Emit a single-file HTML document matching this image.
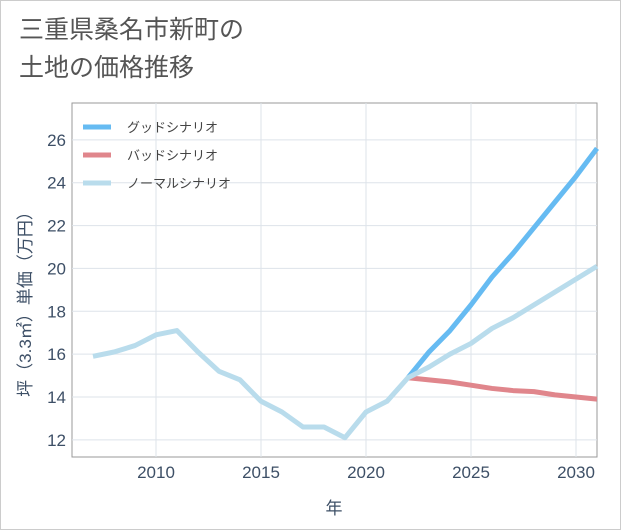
<!DOCTYPE html>
<html><head><meta charset="utf-8"><style>
body{margin:0;background:#fff;}
#wrap{position:relative;width:621px;height:530px;box-sizing:border-box;border:1px solid #ccc;background:#fff;font-family:"Liberation Sans","Noto Sans CJK JP",sans-serif;}
#title{position:absolute;left:18px;top:10px;font-size:25px;color:#555;line-height:38px;}
</style></head><body>
<div id="wrap">
<div id="title">三重県桑名市新町の<br>土地の価格推移</div>
<svg id="chart" width="621" height="530" style="position:absolute;left:-1px;top:-1px"></svg>
</div>
<script>
const years=[2007,2008,2009,2010,2011,2012,2013,2014,2015,2016,2017,2018,2019,2020,2021,2022,2023,2024,2025,2026,2027,2028,2029,2030,2031];
const normalVals=[15.9,16.1,16.4,16.9,17.1,16.1,15.2,14.8,13.8,13.3,12.6,12.6,12.1,13.3,13.8,14.9,15.4,16.0,16.5,17.2,17.7,18.3,18.9,19.5,20.1];
const futureYears=[2022,2023,2024,2025,2026,2027,2028,2029,2030,2031];
const goodVals=[14.9,16.1,17.1,18.3,19.6,20.7,21.9,23.1,24.3,25.6];
const badVals=[14.9,14.8,14.7,14.55,14.4,14.3,14.25,14.1,14.0,13.9];
const xTicks=[2010,2015,2020,2025,2030];
const yTicks=[12,14,16,18,20,22,24,26];
const legendLabels=["グッドシナリオ","バッドシナリオ","ノーマルシナリオ"];
const colors=["#66bbf2","#e0868c","#b9dcec"];

const L=72,R=597,T=103,B=457;
const x=v=>L+(v-2006)*(R-L)/25;
const y=v=>B-(v-11.2)*(B-T)/(27.72-11.2);
const svg=document.getElementById('chart');
const NS='http://www.w3.org/2000/svg';
function mk(t,a){const e=document.createElementNS(NS,t);for(const k in a)e.setAttribute(k,a[k]);svg.appendChild(e);return e;}
const frame=mk('rect',{x:L,y:T,width:R-L,height:B-T,fill:'none',stroke:'#999','stroke-width':1});


yTicks.forEach(v=>{
 const g=mk('line',{x1:L,x2:R,y1:y(v),y2:y(v),stroke:'#dde3ea'});
 
 
 const t=mk('text',{x:L-6,y:y(v)+6,'text-anchor':'end','font-size':17,fill:'#3d4f66'});
 t.textContent=v;
 
 
});
xTicks.forEach(v=>{
 const g=mk('line',{x1:x(v),x2:x(v),y1:T,y2:B,stroke:'#dde3ea'});
 
 
 const t=mk('text',{x:x(v),y:B+21,'text-anchor':'middle','font-size':17,fill:'#3d4f66'});
 t.textContent=v;
 
 
});
function line(xs,vs,c,name){
 const p=mk('polyline',{points:xs.map((yr,i)=>x(yr)+','+y(vs[i])).join(' '),fill:'none',stroke:c,'stroke-width':5,'stroke-linejoin':'round'});
 
 
}
line(futureYears,badVals,colors[1],'bad-scenario-line');
line(futureYears,goodVals,colors[0],'good-scenario-line');
line(years,normalVals,colors[2],'normal-scenario-line');
legendLabels.forEach((s,i)=>{
 const ly=127+i*28;
 const l=mk('line',{x1:83,x2:111,y1:ly,y2:ly,stroke:colors[i],'stroke-width':5});
 
 
 const t=mk('text',{x:127,y:ly+5,'font-size':13,fill:'#444'});
 t.textContent=s;
 
 
});
const xt=mk('text',{x:334,y:514,'text-anchor':'middle','font-size':17,fill:'#3d4f66'});
xt.textContent='年';


const yt=mk('text',{x:0,y:0,'text-anchor':'middle','font-size':17,fill:'#3d4f66',transform:'translate(31,300) rotate(-90)'});
yt.textContent='坪（3.3㎡）単価（万円）';


</script>
</body></html>
